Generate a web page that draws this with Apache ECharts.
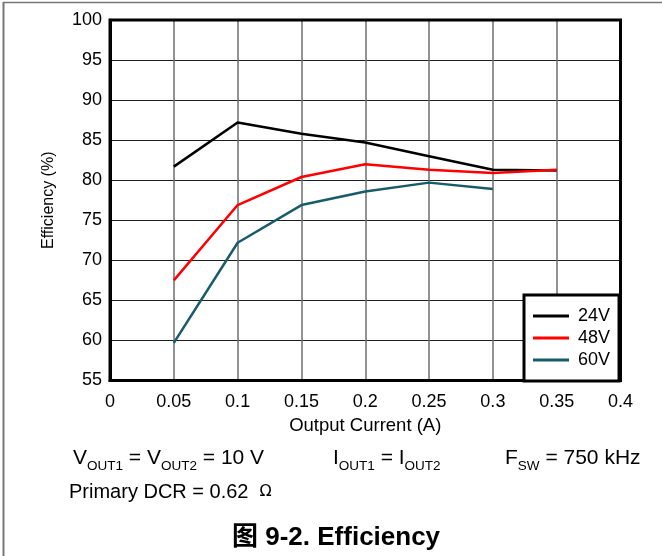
<!DOCTYPE html>
<html>
<head>
<meta charset="utf-8">
<script src="https://cdn.jsdelivr.net/npm/echarts@6/dist/echarts.min.js"></script>
<style>
html,body{margin:0;padding:0;background:#fff;}
#chart{width:662px;height:556px;}
</style>
</head>
<body>
<div id="chart"></div>
<script>
var current = [0.05, 0.1, 0.15, 0.2, 0.25, 0.3, 0.35];
var eff24 = [81.7, 87.2, 85.8, 84.7, 83.0, 81.3, 81.2];
var eff48 = [67.5, 76.9, 80.4, 82.0, 81.3, 80.9, 81.3];
var eff60 = [59.7, 72.2, 76.9, 78.6, 79.7, 78.9];
var seriesNames = ['24V', '48V', '60V'];
var seriesColors = ['#000000', '#ff0000', '#175c6b'];
var xTicks = [0, 0.05, 0.1, 0.15, 0.2, 0.25, 0.3, 0.35, 0.4];
var yTicks = [55, 60, 65, 70, 75, 80, 85, 90, 95, 100];

var FONT = '"Liberation Sans", Arial, sans-serif';

function pairs(xs, ys) {
  var out = [];
  for (var i = 0; i < ys.length; i++) out.push([xs[i], ys[i]]);
  return out;
}
var allY = [eff24, eff48, eff60];

var richMain = {
  a: {fontSize: 21, fontFamily: FONT, fill: '#000', verticalAlign: 'bottom', padding: [0, 0, 4, 0]},
  s: {fontSize: 13.5, fontFamily: FONT, fill: '#000', verticalAlign: 'bottom'}
};

var chart = echarts.init(document.getElementById('chart'), null, {renderer: 'canvas'});
var option = {
  backgroundColor: '#fff',
  animation: false,
  textStyle: {fontFamily: FONT},
  grid: {
    left: 110, top: 20, right: 41.5, bottom: 175.5,
    show: true, borderColor: '#000', borderWidth: 3, backgroundColor: 'transparent', z: 5
  },
  xAxis: {
    type: 'value', min: 0, max: 0.4, interval: 0.05,
    name: 'Output Current (A)', nameLocation: 'middle', nameGap: 31,
    nameTextStyle: {fontSize: 18.5, color: '#000', fontFamily: FONT},
    axisLine: {show: true, lineStyle: {color: '#000', width: 3}},
    axisTick: {show: false},
    axisLabel: {
      fontSize: 18, color: '#000', margin: 13, fontFamily: FONT,
      formatter: function (v) { var s = xTicks.find(function (t) { return Math.abs(t - v) < 1e-9; }); return s === undefined ? '' : String(s); }
    },
    splitLine: {show: true, lineStyle: {color: '#6e6e6e', width: 1.5}}
  },
  yAxis: {
    type: 'value', min: 55, max: 100, interval: 5,
    name: 'Efficiency (%)', nameLocation: 'middle', nameGap: 53,
    nameTextStyle: {fontSize: 16, color: '#000', fontFamily: FONT},
    axisLine: {show: true, lineStyle: {color: '#000', width: 3}},
    axisTick: {show: false},
    axisLabel: {
      fontSize: 18, color: '#000', margin: 8, fontFamily: FONT,
      formatter: function (v) { var s = yTicks.find(function (t) { return Math.abs(t - v) < 1e-9; }); return s === undefined ? '' : String(s); }
    },
    splitLine: {show: true, lineStyle: {color: '#1e1e1e', width: 1}}
  },
  legend: {
    orient: 'vertical',
    left: 524, top: 295,
    data: seriesNames,
    icon: 'rect',
    backgroundColor: '#fff',
    borderColor: '#000', borderWidth: 3,
    padding: [12, 9, 12, 9],
    itemWidth: 36, itemHeight: 3, itemGap: 4,
    textStyle: {fontSize: 18, color: '#000', fontFamily: FONT, padding: [0, 0, 0, 4]},
    z: 10
  },
  series: seriesNames.map(function (n, i) {
    return {
      name: n, type: 'line', symbol: 'none', z: 3,
      data: pairs(current, allY[i]),
      lineStyle: {color: seriesColors[i], width: 2.5},
      itemStyle: {color: seriesColors[i]}
    };
  }),
  graphic: [
    {type: 'line', shape: {x1: 3.5, y1: 2, x2: 3.5, y2: 556}, style: {stroke: '#777', lineWidth: 2}},
    {type: 'line', shape: {x1: 3, y1: 2.5, x2: 662, y2: 2.5}, style: {stroke: '#777', lineWidth: 1.5}},
    {
      type: 'text', left: 73, top: 448,
      style: {text: '{a|V}{s|OUT1}{a| = V}{s|OUT2}{a| = 10 V}', rich: richMain}
    },
    {
      type: 'text', left: 333, top: 448,
      style: {text: '{a|I}{s|OUT1}{a| = I}{s|OUT2}', rich: richMain}
    },
    {
      type: 'text', left: 505, top: 448,
      style: {text: '{a|F}{s|SW}{a| = 750 kHz}', rich: richMain}
    },
    {
      type: 'text', left: 69, top: 482,
      style: {
        text: '{a|Primary DCR = 0.62  }{o|Ω}',
        rich: {
          a: {fontSize: 20, fontFamily: FONT, fill: '#000', verticalAlign: 'bottom'},
          o: {fontSize: 16, fontFamily: '"DejaVu Sans", sans-serif', fill: '#000', verticalAlign: 'bottom', padding: [0, 0, 2, 0]}
        }
      }
    },
    {
      type: 'text', left: 232, top: 525,
      style: {
        text: '图 9-2. Efficiency',
        font: 'bold 26px "Liberation Sans", Arial, "Noto Sans CJK SC", sans-serif',
        fill: '#000'
      }
    }
  ]
};
chart.setOption(option);
</script>
</body>
</html>
